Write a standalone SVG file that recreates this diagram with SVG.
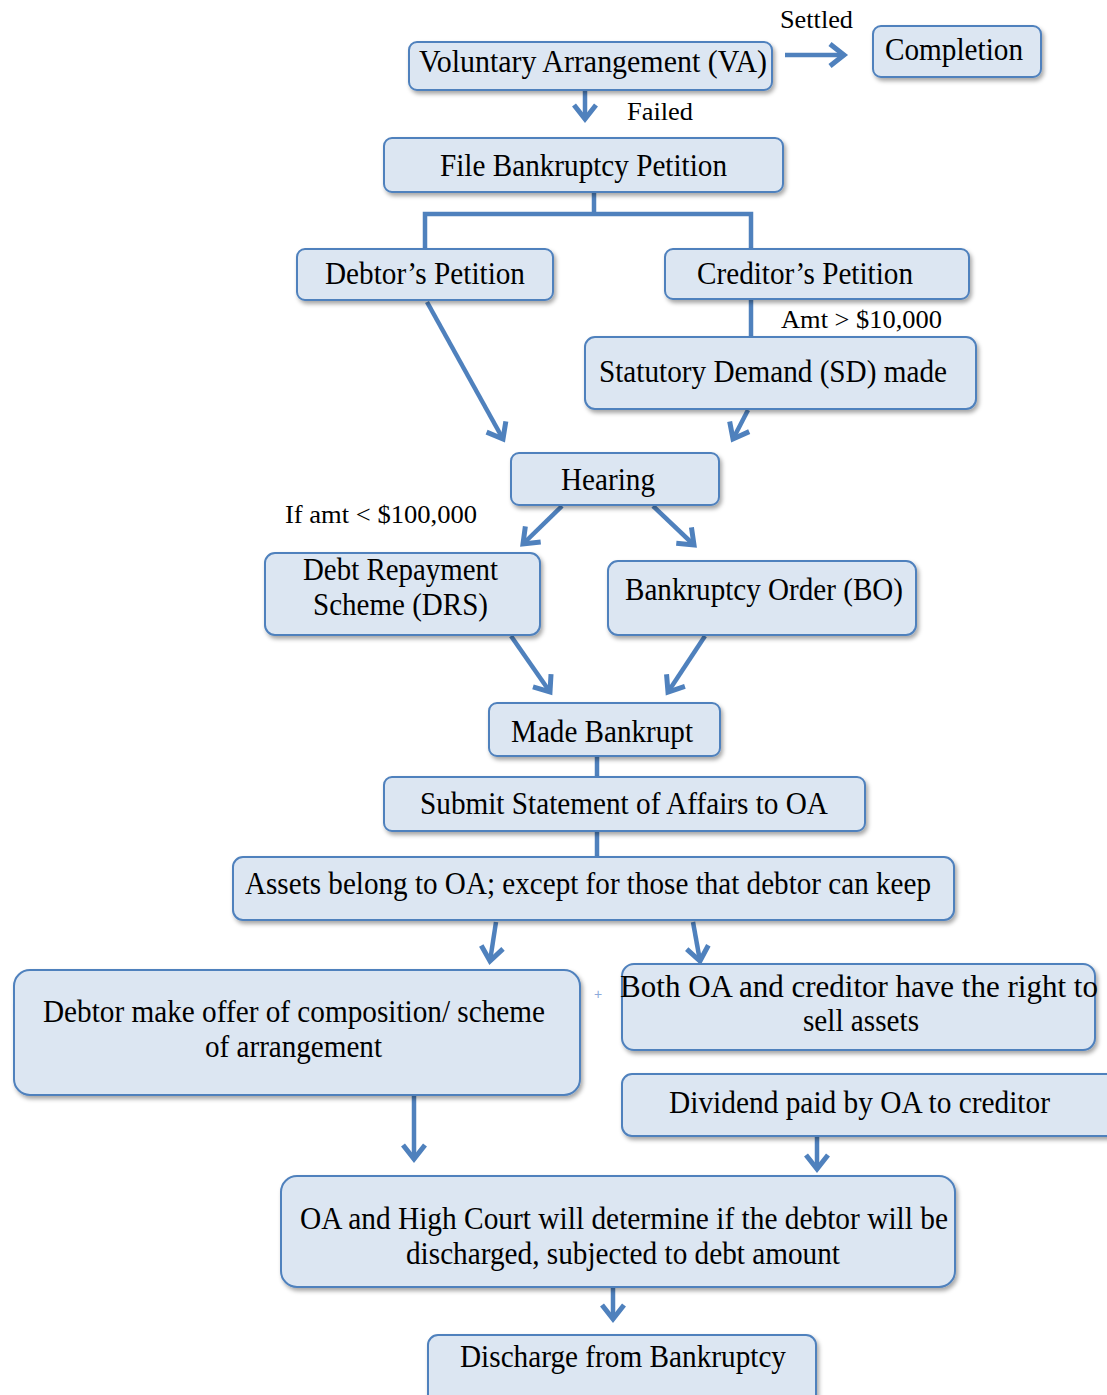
<svg xmlns="http://www.w3.org/2000/svg" width="1107" height="1395" viewBox="0 0 1107 1395">
<style>
.box{fill:#dce6f2;stroke:#4f81bd;stroke-width:2;filter:url(#sh)}
.t{font-family:"Liberation Serif","Times New Roman",serif;font-size:31px;fill:#000;text-anchor:middle}
.l{font-family:"Liberation Serif","Times New Roman",serif;font-size:26px;fill:#000;text-anchor:middle}
.c{fill:none;stroke:#4f81bd;stroke-width:4.5}
</style>
<defs>
<filter id="sh" x="-10%" y="-20%" width="130%" height="160%">
<feDropShadow dx="2" dy="3" stdDeviation="2" flood-color="#000" flood-opacity="0.35"/>
</filter>
<marker id="ah" viewBox="-20 -15 30 30" markerWidth="30" markerHeight="30" refX="0" refY="0" orient="auto" markerUnits="userSpaceOnUse">
<path d="M-14,-11 L0,0 L-14,11" fill="none" stroke="#4f81bd" stroke-width="5"/>
</marker>
</defs>
<rect width="1107" height="1395" fill="#fff"/>

<g id="connectors">
<line class="c" x1="785" y1="55" x2="844" y2="55" marker-end="url(#ah)"/>
<line class="c" x1="585" y1="91" x2="585" y2="119" marker-end="url(#ah)"/>
<polyline class="c" points="594,193 594,214"/>
<polyline class="c" points="425,249 425,214 751,214 751,249"/>
<line class="c" x1="751" y1="300" x2="751" y2="337"/>
<line class="c" x1="427" y1="302" x2="503" y2="439" marker-end="url(#ah)"/>
<line class="c" x1="748" y1="410" x2="733" y2="439" marker-end="url(#ah)"/>
<line class="c" x1="562" y1="506" x2="523" y2="544" marker-end="url(#ah)"/>
<line class="c" x1="653" y1="506" x2="694" y2="545" marker-end="url(#ah)"/>
<line class="c" x1="511" y1="636" x2="550" y2="692" marker-end="url(#ah)"/>
<line class="c" x1="705" y1="636" x2="668" y2="692" marker-end="url(#ah)"/>
<line class="c" x1="597" y1="756" x2="597" y2="777"/>
<line class="c" x1="597" y1="831" x2="597" y2="857"/>
<line class="c" x1="496" y1="922" x2="490" y2="961" marker-end="url(#ah)"/>
<line class="c" x1="693" y1="922" x2="700" y2="961" marker-end="url(#ah)"/>
<line class="c" x1="414" y1="1096" x2="414" y2="1159" marker-end="url(#ah)"/>
<line class="c" x1="817" y1="1137" x2="817" y2="1169" marker-end="url(#ah)"/>
<line class="c" x1="613" y1="1288" x2="613" y2="1319" marker-end="url(#ah)"/>
</g>

<g id="labels">
<text class="l" x="816.5" y="28" textLength="73" lengthAdjust="spacingAndGlyphs">Settled</text>
<text class="l" x="660" y="120" textLength="66" lengthAdjust="spacingAndGlyphs">Failed</text>
<text class="l" x="861.5" y="328" textLength="161" lengthAdjust="spacingAndGlyphs">Amt &gt; $10,000</text>
<text class="l" x="381" y="523" textLength="192" lengthAdjust="spacingAndGlyphs">If amt &lt; $100,000</text>
<text x="598" y="999" font-family="Liberation Sans, sans-serif" font-size="14" fill="#8eaadb" text-anchor="middle">+</text>
</g>

<g id="va"><rect class="box" x="409" y="42" width="363" height="48" rx="8"/>
<text class="t" x="593" y="72" textLength="348" lengthAdjust="spacingAndGlyphs">Voluntary Arrangement (VA)</text></g>

<g id="completion"><rect class="box" x="873" y="26" width="168" height="51" rx="8"/>
<text class="t" x="954" y="60" textLength="138" lengthAdjust="spacingAndGlyphs">Completion</text></g>

<g id="file"><rect class="box" x="384" y="138" width="399" height="54" rx="8"/>
<text class="t" x="583.5" y="176" textLength="287" lengthAdjust="spacingAndGlyphs">File Bankruptcy Petition</text></g>

<g id="debtorpet"><rect class="box" x="297" y="249" width="256" height="51" rx="8"/>
<text class="t" x="425" y="284" textLength="200" lengthAdjust="spacingAndGlyphs">Debtor’s Petition</text></g>

<g id="creditorpet"><rect class="box" x="665" y="249" width="304" height="50" rx="8"/>
<text class="t" x="805" y="284" textLength="216" lengthAdjust="spacingAndGlyphs">Creditor’s Petition</text></g>

<g id="sd"><rect class="box" x="585" y="337" width="391" height="72" rx="10"/>
<text class="t" x="773" y="382" textLength="348" lengthAdjust="spacingAndGlyphs">Statutory Demand (SD) made</text></g>

<g id="hearing"><rect class="box" x="511" y="453" width="208" height="52" rx="8"/>
<text class="t" x="608" y="490" textLength="94" lengthAdjust="spacingAndGlyphs">Hearing</text></g>

<g id="drs"><rect class="box" x="265" y="553" width="275" height="82" rx="10"/>
<text class="t" x="400.5" y="580" textLength="195" lengthAdjust="spacingAndGlyphs">Debt Repayment</text>
<text class="t" x="400.5" y="615" textLength="175" lengthAdjust="spacingAndGlyphs">Scheme (DRS)</text></g>

<g id="bo"><rect class="box" x="608" y="561" width="308" height="74" rx="10"/>
<text class="t" x="764" y="600" textLength="278" lengthAdjust="spacingAndGlyphs">Bankruptcy Order (BO)</text></g>

<g id="made"><rect class="box" x="489" y="703" width="231" height="53" rx="8"/>
<text class="t" x="602" y="742" textLength="182" lengthAdjust="spacingAndGlyphs">Made Bankrupt</text></g>

<g id="submit"><rect class="box" x="384" y="777" width="481" height="54" rx="8"/>
<text class="t" x="624" y="814" textLength="408" lengthAdjust="spacingAndGlyphs">Submit Statement of Affairs to OA</text></g>

<g id="assets"><rect class="box" x="233" y="857" width="721" height="63" rx="10"/>
<text class="t" x="588" y="894" textLength="686" lengthAdjust="spacingAndGlyphs">Assets belong to OA; except for those that debtor can keep</text></g>

<g id="offer"><rect class="box" x="14" y="970" width="566" height="125" rx="16"/>
<text class="t" x="294" y="1022" textLength="502" lengthAdjust="spacingAndGlyphs">Debtor make offer of composition/ scheme</text>
<text class="t" x="293.5" y="1057" textLength="177" lengthAdjust="spacingAndGlyphs">of arrangement</text></g>

<g id="sell"><rect class="box" x="622" y="964" width="473" height="86" rx="12"/>
<text class="t" x="859" y="997" font-size="25">Both OA and creditor have the right to</text>
<text class="t" x="861" y="1031" textLength="116" lengthAdjust="spacingAndGlyphs">sell assets</text></g>

<g id="dividend"><rect class="box" x="622" y="1074" width="500" height="62" rx="10"/>
<text class="t" x="859.5" y="1113" textLength="381" lengthAdjust="spacingAndGlyphs">Dividend paid by OA to creditor</text></g>

<g id="court"><rect class="box" x="281" y="1176" width="674" height="111" rx="16"/>
<text class="t" x="624" y="1229" textLength="648" lengthAdjust="spacingAndGlyphs">OA and High Court will determine if the debtor will be</text>
<text class="t" x="623" y="1264" textLength="434" lengthAdjust="spacingAndGlyphs">discharged, subjected to debt amount</text></g>

<g id="discharge"><rect class="box" x="428" y="1335" width="388" height="75" rx="10"/>
<text class="t" x="623" y="1367" textLength="326" lengthAdjust="spacingAndGlyphs">Discharge from Bankruptcy</text></g>
</svg>
